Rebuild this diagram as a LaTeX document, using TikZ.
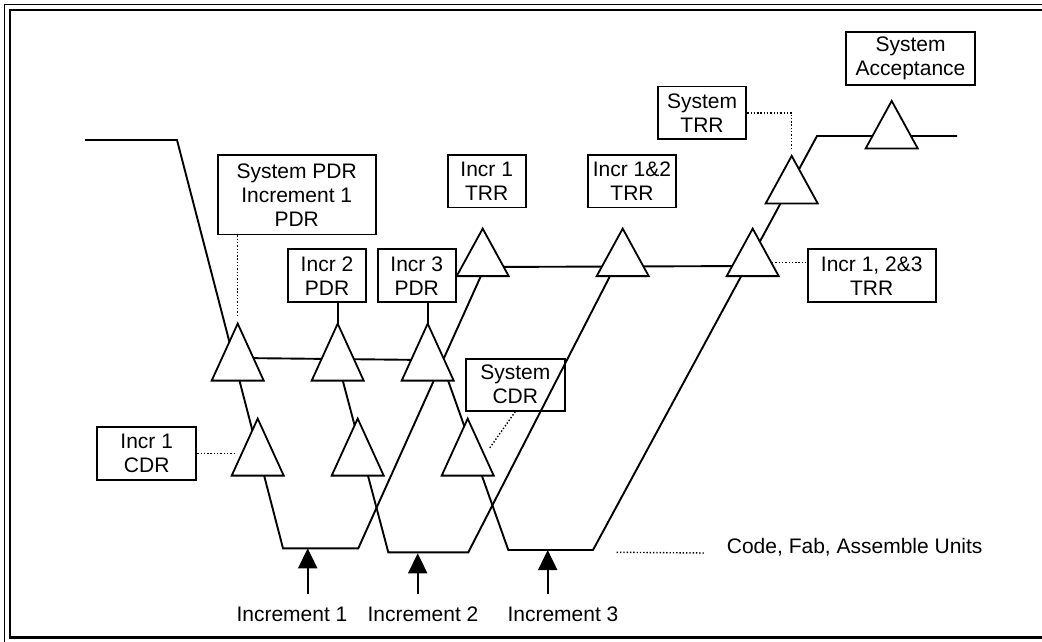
\documentclass[tikz,border=0pt]{standalone}
\usepackage{fontspec}
\setmainfont{Liberation Sans}
\usepackage{tikz}
\usetikzlibrary{shapes.geometric, arrows.meta}
\tikzstyle{revbox} = [rectangle, draw=black, line width=1.8pt, inner sep=0, align=center, font=\fontsize{21}{24}\selectfont]
\tikzstyle{review} = [isosceles triangle, isosceles triangle stretches, rotate=90, minimum width=52pt, minimum height=57pt, inner sep=0, outer sep=0, draw=black, fill=white, line width=1.8pt, anchor=apex]
\tikzstyle{testreview} = [review, minimum height=47.5pt]
\tikzstyle{track} = [line width=1.9pt, line join=miter]
\tikzstyle{callout} = [line width=1.4pt, dash pattern=on 1.4pt off 1.9pt]
\tikzstyle{arrow} = [line width=1.9pt, -{Triangle[width=19pt,length=20pt]}]
\tikzstyle{lbl} = [inner sep=0, anchor=base, font=\fontsize{21}{24}\selectfont]
\begin{document}
\begin{tikzpicture}[x=1pt, y=-1pt]
\useasboundingbox (0,0) rectangle (1042,641);
\clip (0,0) rectangle (1042,641);

% frame
\draw[line width=1.4pt] (4.2,4.2) rectangle (1070,670);
\draw[line width=2.6pt] (9.8,9.8) rectangle (1060,637.3);

\node (sysPDR) [revbox, minimum width=158pt, minimum height=79.5pt] at (296.7,194.7) {System PDR\\Increment 1\\PDR};
\node (incrOneTRR) [revbox, minimum width=78pt, minimum height=52.5pt] at (486.7,181.2) {Incr 1\\TRR};
\node (incrTwoPDR) [revbox, minimum width=78.6pt, minimum height=53pt] at (327,275.8) {Incr 2\\PDR};
\node (incrThreePDR) [revbox, minimum width=78pt, minimum height=53pt] at (416.7,275.8) {Incr 3\\PDR};
\node (incrTwelveTRR) [revbox, minimum width=88.6pt, minimum height=52.5pt] at (632,181.2) {Incr 1\&2\\TRR};
\node (sysTRR) [revbox, minimum width=88.6pt, minimum height=52.5pt] at (702,112.8) {System\\TRR};
\node (sysAcc) [revbox, minimum width=129pt, minimum height=53pt] at (910.5,58.5) {System\\Acceptance};
\node (incrAllTRR) [revbox, minimum width=128pt, minimum height=53pt] at (871.7,275.8) {Incr 1, 2\&3\\TRR};
\node (incrOneCDR) [revbox, minimum width=99.3pt, minimum height=53pt] at (146.7,453.2) {Incr 1\\CDR};
\node (sysCDR) [revbox, minimum width=98.7pt, minimum height=52pt] at (515.3,384.7) {System\\CDR};

\coordinate (start) at (85,140);
\coordinate (knee) at (177,140);
\coordinate (bOneL) at (283,548.3);
\coordinate (bOneR) at (358.3,548.3);
\coordinate (upOne) at (489,258);
\coordinate (dnTwo) at (337.3,360);
\coordinate (bTwoL) at (388.3,552.3);
\coordinate (bTwoR) at (468.3,552.3);
\coordinate (upTwo) at (617.2,262);
\coordinate (dnThree) at (440.8,360);
\coordinate (bThreeL) at (508.3,550);
\coordinate (bThreeR) at (593,550);
\coordinate (topKnee) at (817,136);
\coordinate (finish) at (957,136);
\coordinate (pdrBarL) at (240,358);
\coordinate (pdrBarR) at (427,360);
\coordinate (trrBarL) at (482.7,267);
\coordinate (trrBarR) at (752.7,266);

\draw[track] (start) -- (knee) -- (bOneL) -- (bOneR) -- (upOne);
\draw[track] (dnTwo) -- (bTwoL) -- (bTwoR) -- (upTwo);
\draw[track] (dnThree) -- (bThreeL) -- (bThreeR) -- (topKnee) -- (finish);
\draw[track] (pdrBarL) -- (pdrBarR);
\draw[track] (trrBarL) -- (trrBarR);

\node (pdrA) [review] at (237.7,323.6) {};
\node (pdrB) [review] at (337.7,323.6) {};
\node (pdrC) [review] at (427.7,323.6) {};
\node (cdrA) [review] at (257.7,418.6) {};
\node (cdrB) [review] at (357.7,418.6) {};
\node (cdrC) [review] at (467.7,418.6) {};
\node (trrA) [testreview] at (482.7,228.6) {};
\node (trrB) [testreview] at (622.7,228.6) {};
\node (trrC) [testreview] at (752.7,228.6) {};
\node (trrS) [testreview] at (791.7,155.9) {};
\node (accept) [testreview] at (891.7,100.9) {};

\coordinate (cdrAhit) at (235,453.2);
\coordinate (cdrChit) at (489,449);
\coordinate (trrChit) at (772,262.7);
\coordinate (cfaDots) at (616.7,552.3);

\draw[callout, shorten >=8pt] (pdrA.apex |- sysPDR.south) -- (pdrA.apex);
\draw[track] (pdrB.apex |- incrTwoPDR.south) -- (pdrB.apex);
\draw[track] (pdrC.apex |- incrThreePDR.south) -- (pdrC.apex);
\draw[callout] (incrOneCDR.east) -- (cdrAhit);
\draw[callout] (sysCDR.south) -- (cdrChit);
\draw[callout, shorten >=7pt] (sysTRR.east) -| (trrS.apex);
\draw[callout] (trrChit) -- (trrChit -| incrAllTRR.west);

\node (incOne) [lbl] at (292,621.7) {Increment 1};
\node (incTwo) [lbl] at (423,621.7) {Increment 2};
\node (incThree) [lbl] at (563,621.7) {Increment 3};
\node (cfa) [lbl, anchor=base west] at (726.7,553) {Code, Fab, Assemble Units};
\draw[callout] (cfaDots) -- ([xshift=-21pt]cfa.base west);

\coordinate (footOne) at (307.7,594.3);
\coordinate (footTwo) at (417.7,594.3);
\coordinate (footThree) at (547.7,594.3);
\draw[arrow] (footOne) -- (footOne |- bOneL) ;
\draw[arrow, shorten >=1pt] (footTwo) -- (footTwo |- bTwoL);
\draw[arrow] (footThree) -- (footThree |- bThreeL);

\end{tikzpicture}
\end{document}
